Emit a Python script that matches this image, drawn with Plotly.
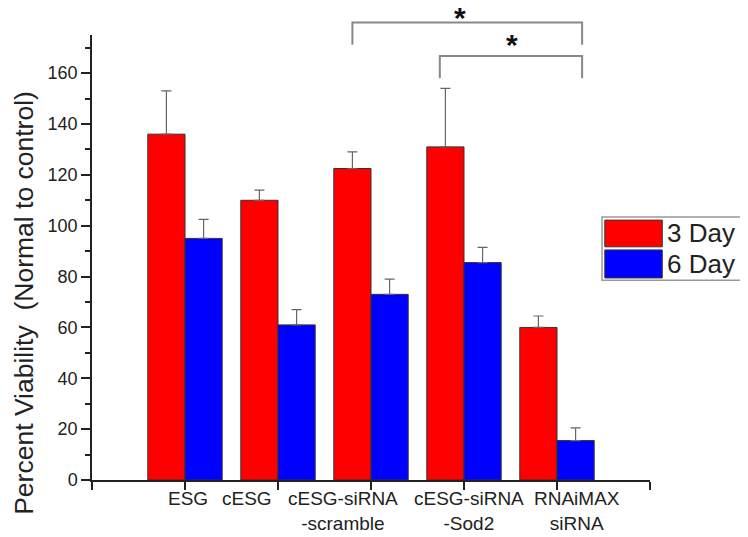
import plotly.graph_objects as go

# ── Data ──────────────────────────────────────────────────────────────────────
groups = ["ESG", "cESG", "cESG-siRNA<br>-scramble", "cESG-siRNA<br>-Sod2", "RNAiMAX<br>siRNA"]
group_pos = [1, 2, 3, 4, 5]

day3 = [136, 110, 122.5, 131, 60]
day3_top = [153, 114, 129, 154, 64.5]      # top of error bar
day6 = [95, 61, 73, 85.5, 15.5]
day6_top = [102.5, 67, 79, 91.5, 20.5]

y_ticks = [0, 20, 40, 60, 80, 100, 120, 140, 160]

# group labels sit slightly off their ticks in the original figure
label_x = [1.03, 1.67, 2.70, 4.05, 5.22]

FONT = "Liberation Sans, Arial, sans-serif"
RED = "#ff0000"
BLUE = "#0000ff"


def err(top, val):
    return [t - v for t, v in zip(top, val)]


fig = go.Figure()
for name, vals, tops, color in [("3 Day", day3, day3_top, RED),
                                ("6 Day", day6, day6_top, BLUE)]:
    fig.add_trace(go.Bar(
        x=group_pos, y=vals, name=name, showlegend=False,
        marker=dict(color=color, line=dict(color="#333", width=1)),
        error_y=dict(type="data", symmetric=False, array=err(tops, vals),
                     arrayminus=[0] * len(vals), color="#666",
                     thickness=1.2, width=5),
    ))

# page body adds an 8px offset, so the figure is 8px smaller on each side
fig.update_layout(
    barmode="group", bargap=0.2, bargroupgap=0,
    width=740, height=529,
    margin=dict(l=84, r=98, t=27, b=57),
    plot_bgcolor="white", paper_bgcolor="white",
    font=dict(family=FONT, color="#222"),
)

fig.update_xaxes(
    range=[0, 6], tickvals=[0] + group_pos + [6], showticklabels=False,
    automargin=False,
    showline=True, linecolor="#222", linewidth=1.5,
    ticks="outside", ticklen=8, tickcolor="#222", tickwidth=1.5,
    showgrid=False, zeroline=False,
)
fig.update_yaxes(
    range=[0, 175], tickvals=y_ticks, automargin=False,
    showline=True, linecolor="#222", linewidth=1.5,
    ticks="outside", ticklen=9, tickcolor="#222", tickwidth=1.5,
    minor=dict(dtick=10, ticks="outside", ticklen=5, tickcolor="#222", tickwidth=1.5),
    showgrid=False, zeroline=False, tickfont=dict(size=18),
)

for lbl, lx in zip(groups, label_x):
    fig.add_annotation(
        text=lbl, xref="x", yref="paper", x=lx, y=-0.013,
        xanchor="center", yanchor="top", showarrow=False, align="center",
        font=dict(size=19, family=FONT, color="#222"),
    )

# y-axis title
fig.add_annotation(
    text="Percent Viability  (Normal to control)", textangle=-90,
    xref="paper", yref="paper", x=-0.122, y=0.398, showarrow=False,
    xanchor="center", yanchor="middle",
    font=dict(size=26.5, family=FONT, color="#222"),
)

# ── Significance brackets ─────────────────────────────────────────────────────
brackets = [
    (2.80, 5.27, 1.028, 0.978, 3.96, 1.040),
    (3.74, 5.27, 0.953, 0.903, 4.52, 0.979),
]
for x0, x1, ytop, yend, xs, ys in brackets:
    fig.add_shape(
        type="path", xref="x", yref="paper",
        path=f"M {x0},{yend} L {x0},{ytop} L {x1},{ytop} L {x1},{yend}",
        line=dict(color="#888", width=2),
    )
    fig.add_annotation(
        text="<b>*</b>", xref="x", yref="paper", x=xs, y=ys,
        showarrow=False, yanchor="middle", font=dict(size=30, color="#111"),
    )

# ── Legend (drawn by hand to get the large swatches) ──────────────────────────
fig.add_shape(type="rect", xref="paper", yref="paper",
              x0=0.914, x1=1.165, y0=0.449, y1=0.591,
              line=dict(color="#999", width=1.5), fillcolor="white")
for name, color, y0, y1, yt in [("3 Day", RED, 0.524, 0.584, 0.555),
                                ("6 Day", BLUE, 0.454, 0.517, 0.485)]:
    fig.add_shape(type="rect", xref="paper", yref="paper",
                  x0=0.919, x1=1.022, y0=y0, y1=y1,
                  line=dict(color="#333", width=1), fillcolor=color)
    fig.add_annotation(text=name, xref="paper", yref="paper", x=1.027, y=yt,
                       xanchor="left", yanchor="middle", showarrow=False,
                       font=dict(size=26, family=FONT, color="#222"))

fig.write_html("out.html")
